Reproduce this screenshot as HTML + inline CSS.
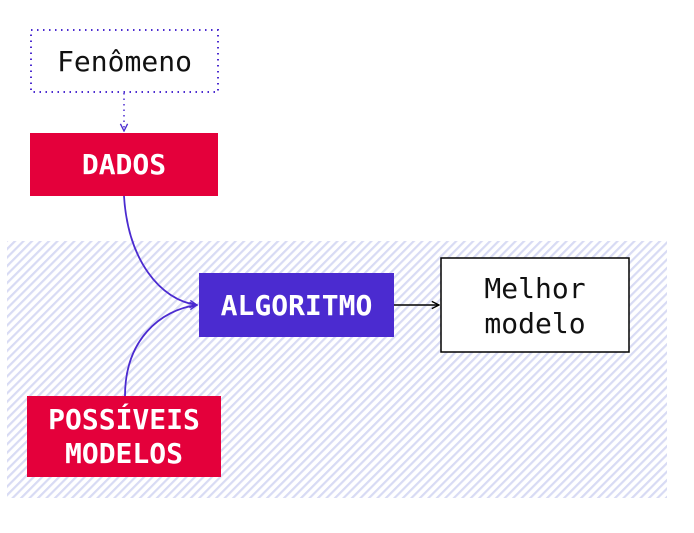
<!DOCTYPE html>
<html><head><meta charset="utf-8"><style>
html,body{margin:0;padding:0;background:#fff;width:694px;height:533px;overflow:hidden}
text{font-family:"DejaVu Sans Mono","Liberation Mono",monospace}
.b{font-family:"DejaVu Sans Mono","Liberation Mono",monospace;font-weight:bold;fill:#fff;font-size:28px}
</style></head><body>
<svg width="694" height="533" viewBox="0 0 694 533" xmlns="http://www.w3.org/2000/svg">
<defs>
<pattern id="h" width="6" height="6" patternUnits="userSpaceOnUse" patternTransform="rotate(45)">
<rect width="6" height="6" fill="#fff"/>
<rect width="2.2" height="6" fill="#d8dbf4"/>
</pattern>
<marker id="ap" viewBox="0 0 10 10" refX="9" refY="5" markerWidth="9" markerHeight="9" orient="auto" markerUnits="userSpaceOnUse"><path d="M1,1 L9,5 L1,9" fill="none" stroke="#4b2bd0" stroke-width="1.5"/></marker>
<marker id="ak" viewBox="0 0 10 10" refX="9" refY="5" markerWidth="9" markerHeight="9" orient="auto" markerUnits="userSpaceOnUse"><path d="M1,1 L9,5 L1,9" fill="none" stroke="#000" stroke-width="1.5"/></marker>
</defs>
<rect x="7" y="241" width="660" height="257" fill="url(#h)"/>
<rect x="31" y="30" width="187" height="62" fill="#fff" stroke="#4b2bd0" stroke-width="2" stroke-dasharray="1.5 4.5"/>
<text x="124.5" y="71" font-size="28" text-anchor="middle" fill="#111">Fenômeno</text>
<path d="M124,93 L124,131" stroke="#4b2bd0" stroke-width="1.5" stroke-dasharray="1.5 4" fill="none" marker-end="url(#ap)"/>
<rect x="30" y="133" width="188" height="63" fill="#e4003b"/>
<text class="b" x="124" y="174" text-anchor="middle">DADOS</text>
<path d="M124,196 C128,260 160,300 197,305" stroke="#4b2bd0" stroke-width="1.8" fill="none" marker-end="url(#ap)"/>
<path d="M125,396 C125,340 160,310 197,305" stroke="#4b2bd0" stroke-width="1.8" fill="none" marker-end="url(#ap)"/>
<rect x="199" y="273" width="195" height="64" fill="#4b2bd0"/>
<text class="b" x="296.5" y="315" text-anchor="middle">ALGORITMO</text>
<path d="M394,305 L439,305" stroke="#000" stroke-width="1.5" fill="none" marker-end="url(#ak)"/>
<rect x="441" y="258" width="188" height="94" fill="#fff" stroke="#000" stroke-width="1.5"/>
<text x="535" y="298" font-size="28" text-anchor="middle" fill="#111">Melhor</text>
<text x="535" y="333" font-size="28" text-anchor="middle" fill="#111">modelo</text>
<rect x="27" y="396" width="194" height="81" fill="#e4003b"/>
<text class="b" x="124" y="429" text-anchor="middle">POSSÍVEIS</text>
<text class="b" x="124" y="463" text-anchor="middle">MODELOS</text>
</svg>
</body></html>
